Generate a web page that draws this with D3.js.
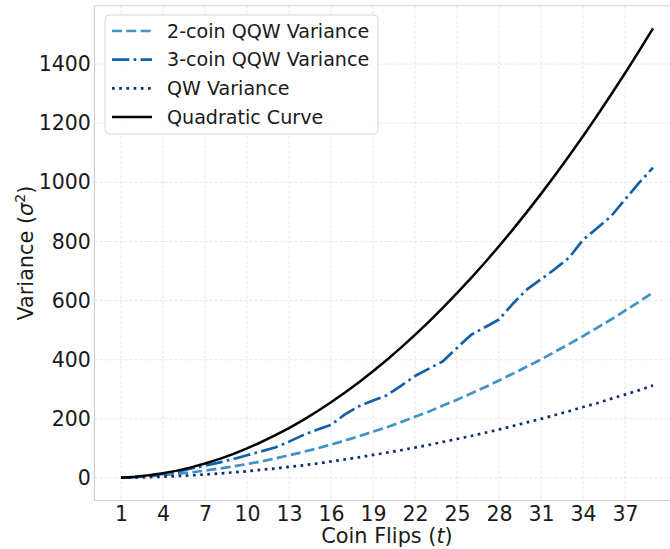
<!DOCTYPE html>
<html>
<head>
<meta charset="utf-8">
<script src="https://cdn.jsdelivr.net/npm/d3@7"></script>
<style>
  html, body { margin: 0; padding: 0; background: #fff; }
  svg { display: block; font-family: "DejaVu Sans", sans-serif; }
</style>
</head>
<body>
<svg id="chart" width="670" height="549"></svg>
<script>
// Coin flips t = 1..39
const flips = d3.range(1, 40);

const twoCoinVariance = [1, 3, 6, 10, 14, 19, 25, 32, 39, 47, 56, 66, 77, 88, 100, 113, 127, 141, 157, 172,
  189, 207, 225, 245, 265, 286, 307, 330, 353, 377, 401, 427, 453, 480, 508, 536, 566, 596, 627];

const threeCoinVariance = [1, 3, 8, 14, 21, 32, 42, 52, 64, 77, 90, 103, 123, 145, 163, 180, 215, 243, 262, 280,
  312, 345, 370, 395, 440, 484, 510, 536, 590, 638, 672, 707, 745, 805, 845, 885, 942, 998, 1050];

const qwVariance = [1, 1.5, 3, 4.5, 6.6, 9, 12, 15, 19, 23, 28, 32, 38, 43, 49, 56, 63, 70, 78, 86,
  94, 103, 112, 122, 132, 142, 153, 164, 176, 188, 200, 213, 226, 240, 253, 268, 282, 297, 313];

const quadraticCurve = [1, 4, 9, 16, 25, 36, 49, 64, 81, 100, 121, 144, 169, 196, 225, 256, 289, 324, 361, 400,
  441, 484, 529, 576, 625, 676, 729, 784, 841, 900, 961, 1024, 1089, 1156, 1225, 1296, 1369, 1444, 1521];

const xTicks = [1, 4, 7, 10, 13, 16, 19, 22, 25, 28, 31, 34, 37];
const yTicks = [0, 200, 400, 600, 800, 1000, 1200, 1400];

const seriesNames = ["2-coin QQW Variance", "3-coin QQW Variance", "QW Variance", "Quadratic Curve"];
const seriesValues = [twoCoinVariance, threeCoinVariance, qwVariance, quadraticCurve];

const styles = [
  { color: "#4292c6", dash: "10,4.3", width: 2.7 },
  { color: "#1360a8", dash: "17.3,4.3,2.7,4.3", width: 2.7 },
  { color: "#0d2d6e", dash: "2.7,4.5", width: 2.7 },
  { color: "#000000", dash: null, width: 2.5 }
];

const svg = d3.select("#chart");
const plot = { left: 94.4, right: 679.6, top: 5.8, bottom: 500.5 };

const x = d3.scaleLinear().domain([-0.9, 40.9]).range([plot.left, plot.right]);
const y = d3.scaleLinear().domain([-76.05, 1597.05]).range([plot.bottom, plot.top]);

// grid
const grid = svg.append("g");
grid.selectAll("line.gx").data(xTicks).join("line")
  .attr("x1", d => x(d)).attr("x2", d => x(d))
  .attr("y1", plot.top).attr("y2", plot.bottom)
  .attr("stroke", "#e6e6e6").attr("stroke-width", 1).attr("stroke-dasharray", "3,2");
grid.selectAll("line.gy").data(yTicks).join("line")
  .attr("x1", plot.left).attr("x2", plot.right)
  .attr("y1", d => y(d)).attr("y2", d => y(d))
  .attr("stroke", "#e6e6e6").attr("stroke-width", 1).attr("stroke-dasharray", "3,2");

// frame
const frame = svg.append("g").attr("stroke", "#d0d0d0").attr("stroke-width", 1.1).attr("fill", "none");
frame.append("line").attr("x1", plot.left).attr("x2", plot.right).attr("y1", plot.top).attr("y2", plot.top);
frame.append("line").attr("x1", plot.left).attr("x2", plot.right).attr("y1", plot.bottom).attr("y2", plot.bottom);
frame.append("line").attr("x1", plot.left).attr("x2", plot.left).attr("y1", plot.top).attr("y2", plot.bottom);

// axes
const xAxis = svg.append("g")
  .attr("transform", `translate(0,${plot.bottom})`)
  .call(d3.axisBottom(x).tickValues(xTicks).tickSize(0).tickPadding(6).tickFormat(d3.format("d")));
const yAxis = svg.append("g")
  .attr("transform", `translate(${plot.left},0)`)
  .call(d3.axisLeft(y).tickValues(yTicks).tickSize(0).tickPadding(3.5).tickFormat(d3.format("d")));
[xAxis, yAxis].forEach(a => {
  a.select(".domain").remove();
  a.selectAll("text").attr("font-size", 20.5).attr("fill", "#1a1a1a")
    .attr("font-family", "DejaVu Sans, sans-serif");
});

// axis titles
const xl = svg.append("text").attr("x", (plot.left + plot.right) / 2).attr("y", 543)
  .attr("text-anchor", "middle").attr("font-size", 20.8).attr("fill", "#1a1a1a");
xl.append("tspan").text("Coin Flips (");
xl.append("tspan").attr("font-style", "italic").text("t");
xl.append("tspan").text(")");

const yl = svg.append("text")
  .attr("transform", `translate(33,${(plot.top + plot.bottom) / 2}) rotate(-90)`)
  .attr("text-anchor", "middle").attr("font-size", 20.8).attr("fill", "#1a1a1a");
yl.append("tspan").text("Variance (");
yl.append("tspan").attr("font-style", "italic").text("σ");
yl.append("tspan").attr("font-size", 14).attr("dy", -8).text("2");
yl.append("tspan").attr("dy", 8).text(")");

// series lines
const line = d3.line().x(d => x(d[0])).y(d => y(d[1]));
seriesValues.forEach((vals, i) => {
  const s = styles[i];
  svg.append("path")
    .datum(flips.map((t, j) => [t, vals[j]]))
    .attr("d", line)
    .attr("fill", "none")
    .attr("stroke", s.color)
    .attr("stroke-width", s.width)
    .attr("stroke-dasharray", s.dash)
    .attr("stroke-linejoin", "round");
});

// legend
const legend = svg.append("g");
legend.append("rect").attr("x", 105).attr("y", 15).attr("width", 273).attr("height", 119)
  .attr("rx", 4).attr("fill", "#ffffff").attr("fill-opacity", 0.8)
  .attr("stroke", "#d6d6d6").attr("stroke-width", 1);
seriesNames.forEach((name, i) => {
  const ry = 31 + i * 28.7;
  const s = styles[i];
  legend.append("line").attr("x1", 112).attr("x2", 152).attr("y1", ry).attr("y2", ry)
    .attr("stroke", s.color).attr("stroke-width", s.width).attr("stroke-dasharray", s.dash);
  legend.append("text").attr("x", 167).attr("y", ry).attr("dy", "0.35em")
    .attr("font-size", 19.1).attr("fill", "#1a1a1a").text(name);
});
</script>
</body>
</html>
